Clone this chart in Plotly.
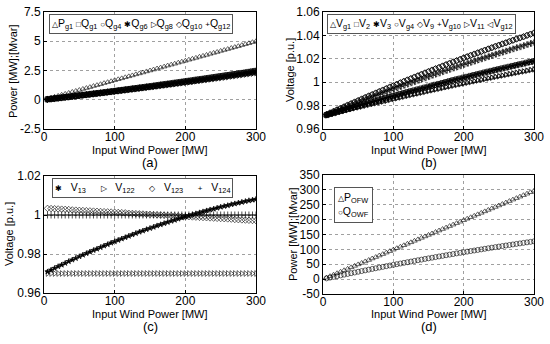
import plotly.graph_objects as go

# ---------------- data ----------------
wind_mw = [5, 10, 15, 20, 25, 30, 35, 40, 45, 50,
           55, 60, 65, 70, 75, 80, 85, 90, 95, 100,
           105, 110, 115, 120, 125, 130, 135, 140, 145, 150,
           155, 160, 165, 170, 175, 180, 185, 190, 195, 200,
           205, 210, 215, 220, 225, 230, 235, 240, 245, 250,
           255, 260, 265, 270, 275, 280, 285, 290, 295, 300]

# (a) generator powers
p_g1 = [0.08, 0.17, 0.25, 0.33, 0.42, 0.50, 0.58, 0.67, 0.75, 0.83,
        0.92, 1.00, 1.08, 1.17, 1.25, 1.33, 1.42, 1.50, 1.58, 1.67,
        1.75, 1.83, 1.92, 2.00, 2.08, 2.17, 2.25, 2.33, 2.42, 2.50,
        2.58, 2.67, 2.75, 2.83, 2.92, 3.00, 3.08, 3.17, 3.25, 3.33,
        3.42, 3.50, 3.58, 3.67, 3.75, 3.83, 3.92, 4.00, 4.08, 4.17,
        4.25, 4.33, 4.42, 4.50, 4.58, 4.67, 4.75, 4.83, 4.92, 5.00]
q_g1 = [0.04, 0.07, 0.11, 0.14, 0.18, 0.22, 0.25, 0.29, 0.33, 0.37,
        0.40, 0.44, 0.48, 0.52, 0.56, 0.59, 0.63, 0.67, 0.71, 0.75,
        0.79, 0.83, 0.87, 0.91, 0.95, 0.99, 1.03, 1.07, 1.11, 1.15,
        1.19, 1.24, 1.28, 1.32, 1.36, 1.40, 1.45, 1.49, 1.53, 1.58,
        1.62, 1.66, 1.71, 1.75, 1.79, 1.84, 1.88, 1.93, 1.97, 2.02,
        2.06, 2.11, 2.15, 2.20, 2.24, 2.29, 2.33, 2.38, 2.43, 2.47]
q_g4 = [0.03, 0.07, 0.10, 0.14, 0.17, 0.21, 0.24, 0.28, 0.31, 0.35,
        0.39, 0.42, 0.46, 0.49, 0.53, 0.57, 0.60, 0.64, 0.68, 0.72,
        0.75, 0.79, 0.83, 0.87, 0.91, 0.94, 0.98, 1.02, 1.06, 1.10,
        1.14, 1.18, 1.22, 1.26, 1.30, 1.34, 1.38, 1.42, 1.46, 1.50,
        1.54, 1.58, 1.62, 1.67, 1.71, 1.75, 1.79, 1.83, 1.88, 1.92,
        1.96, 2.01, 2.05, 2.09, 2.14, 2.18, 2.22, 2.27, 2.31, 2.36]
q_g6 = [0.03, 0.07, 0.11, 0.14, 0.18, 0.21, 0.25, 0.28, 0.32, 0.36,
        0.39, 0.43, 0.47, 0.50, 0.54, 0.58, 0.62, 0.65, 0.69, 0.73,
        0.77, 0.81, 0.84, 0.88, 0.92, 0.96, 1.00, 1.04, 1.08, 1.12,
        1.16, 1.20, 1.24, 1.28, 1.32, 1.36, 1.41, 1.45, 1.49, 1.53,
        1.57, 1.61, 1.66, 1.70, 1.74, 1.78, 1.83, 1.87, 1.91, 1.96,
        2.00, 2.04, 2.09, 2.13, 2.18, 2.22, 2.27, 2.31, 2.36, 2.40]
q_g8 = [0.03, 0.07, 0.10, 0.13, 0.17, 0.20, 0.23, 0.27, 0.30, 0.34,
        0.37, 0.41, 0.44, 0.48, 0.51, 0.55, 0.58, 0.62, 0.66, 0.69,
        0.73, 0.77, 0.80, 0.84, 0.88, 0.91, 0.95, 0.99, 1.03, 1.07,
        1.10, 1.14, 1.18, 1.22, 1.26, 1.30, 1.34, 1.38, 1.42, 1.46,
        1.49, 1.53, 1.58, 1.62, 1.66, 1.70, 1.74, 1.78, 1.82, 1.86,
        1.90, 1.94, 1.99, 2.03, 2.07, 2.11, 2.16, 2.20, 2.24, 2.28]
q_g10 = [0.04, 0.07, 0.11, 0.14, 0.18, 0.22, 0.25, 0.29, 0.32, 0.36,
         0.40, 0.44, 0.48, 0.51, 0.55, 0.59, 0.63, 0.67, 0.70, 0.74,
         0.78, 0.82, 0.86, 0.90, 0.94, 0.98, 1.02, 1.06, 1.10, 1.14,
         1.18, 1.22, 1.27, 1.31, 1.35, 1.39, 1.43, 1.47, 1.52, 1.56,
         1.60, 1.64, 1.69, 1.73, 1.77, 1.82, 1.86, 1.91, 1.95, 2.00,
         2.04, 2.08, 2.13, 2.18, 2.22, 2.27, 2.31, 2.36, 2.40, 2.45]
q_g12 = [0.03, 0.07, 0.10, 0.14, 0.17, 0.21, 0.24, 0.28, 0.32, 0.35,
         0.39, 0.43, 0.46, 0.50, 0.54, 0.57, 0.61, 0.65, 0.69, 0.72,
         0.76, 0.80, 0.84, 0.88, 0.91, 0.95, 0.99, 1.03, 1.07, 1.11,
         1.15, 1.19, 1.23, 1.27, 1.31, 1.35, 1.39, 1.43, 1.47, 1.52,
         1.56, 1.60, 1.64, 1.68, 1.73, 1.77, 1.81, 1.85, 1.90, 1.94,
         1.98, 2.03, 2.07, 2.11, 2.16, 2.20, 2.24, 2.29, 2.33, 2.38]

# (b) bus voltages (four visible bundles)
v_top = [0.9724, 0.9737, 0.9750, 0.9764, 0.9777, 0.9790, 0.9804, 0.9817, 0.9830, 0.9843,
         0.9856, 0.9869, 0.9882, 0.9894, 0.9907, 0.9920, 0.9932, 0.9945, 0.9958, 0.9970,
         0.9982, 0.9995, 1.0007, 1.0019, 1.0031, 1.0043, 1.0055, 1.0067, 1.0079, 1.0091,
         1.0103, 1.0115, 1.0126, 1.0138, 1.0150, 1.0161, 1.0173, 1.0184, 1.0195, 1.0207,
         1.0218, 1.0229, 1.0240, 1.0251, 1.0262, 1.0273, 1.0284, 1.0295, 1.0306, 1.0316,
         1.0327, 1.0337, 1.0348, 1.0358, 1.0369, 1.0379, 1.0389, 1.0400, 1.0410, 1.0420]
v_second = [0.9722, 0.9734, 0.9745, 0.9758, 0.9769, 0.9781, 0.9793, 0.9805, 0.9816, 0.9828,
            0.9840, 0.9851, 0.9863, 0.9873, 0.9885, 0.9896, 0.9907, 0.9918, 0.9930, 0.9941,
            0.9951, 0.9963, 0.9973, 0.9984, 0.9995, 1.0005, 1.0016, 1.0027, 1.0037, 1.0048,
            1.0059, 1.0069, 1.0079, 1.0090, 1.0100, 1.0110, 1.0121, 1.0130, 1.0140, 1.0151,
            1.0161, 1.0170, 1.0180, 1.0190, 1.0200, 1.0209, 1.0219, 1.0229, 1.0239, 1.0248,
            1.0257, 1.0266, 1.0276, 1.0285, 1.0295, 1.0303, 1.0312, 1.0322, 1.0331, 1.0340]
v_third = [0.9719, 0.9728, 0.9736, 0.9746, 0.9754, 0.9763, 0.9772, 0.9781, 0.9789, 0.9798,
           0.9807, 0.9815, 0.9824, 0.9832, 0.9840, 0.9849, 0.9857, 0.9866, 0.9874, 0.9882,
           0.9890, 0.9899, 0.9907, 0.9915, 0.9923, 0.9930, 0.9938, 0.9946, 0.9954, 0.9962,
           0.9970, 0.9978, 0.9985, 0.9993, 1.0001, 1.0009, 1.0017, 1.0024, 1.0031, 1.0039,
           1.0046, 1.0054, 1.0061, 1.0068, 1.0075, 1.0083, 1.0090, 1.0097, 1.0105, 1.0111,
           1.0118, 1.0125, 1.0132, 1.0139, 1.0146, 1.0153, 1.0159, 1.0167, 1.0173, 1.0180]
v_bottom = [0.9718, 0.9725, 0.9733, 0.9740, 0.9748, 0.9755, 0.9763, 0.9770, 0.9778, 0.9785,
            0.9792, 0.9800, 0.9807, 0.9814, 0.9821, 0.9828, 0.9835, 0.9842, 0.9850, 0.9856,
            0.9863, 0.9870, 0.9877, 0.9884, 0.9891, 0.9897, 0.9904, 0.9911, 0.9918, 0.9925,
            0.9931, 0.9938, 0.9944, 0.9951, 0.9958, 0.9964, 0.9971, 0.9977, 0.9983, 0.9990,
            0.9996, 1.0002, 1.0008, 1.0015, 1.0021, 1.0027, 1.0033, 1.0039, 1.0046, 1.0051,
            1.0057, 1.0063, 1.0069, 1.0075, 1.0081, 1.0087, 1.0092, 1.0098, 1.0104, 1.0110]

# (c) other bus voltages
v_13 = [0.9709, 0.9718, 0.9727, 0.9736, 0.9744, 0.9753, 0.9762, 0.9770, 0.9778, 0.9787,
        0.9795, 0.9803, 0.9811, 0.9819, 0.9826, 0.9834, 0.9842, 0.9849, 0.9857, 0.9864,
        0.9871, 0.9878, 0.9885, 0.9892, 0.9899, 0.9906, 0.9913, 0.9919, 0.9926, 0.9932,
        0.9938, 0.9945, 0.9951, 0.9957, 0.9963, 0.9969, 0.9974, 0.9980, 0.9986, 0.9991,
        0.9996, 1.0002, 1.0007, 1.0012, 1.0017, 1.0022, 1.0027, 1.0031, 1.0036, 1.0041,
        1.0045, 1.0049, 1.0054, 1.0058, 1.0062, 1.0066, 1.0070, 1.0074, 1.0077, 1.0081]
v_122 = [0.970, 0.970, 0.970, 0.970, 0.970, 0.970, 0.970, 0.970, 0.970, 0.970,
         0.970, 0.970, 0.970, 0.970, 0.970, 0.970, 0.970, 0.970, 0.970, 0.970,
         0.970, 0.970, 0.970, 0.970, 0.970, 0.970, 0.970, 0.970, 0.970, 0.970,
         0.970, 0.970, 0.970, 0.970, 0.970, 0.970, 0.970, 0.970, 0.970, 0.970,
         0.970, 0.970, 0.970, 0.970, 0.970, 0.970, 0.970, 0.970, 0.970, 0.970,
         0.970, 0.970, 0.970, 0.970, 0.970, 0.970, 0.970, 0.970, 0.970, 0.970]
v_123 = [1.0034, 1.0033, 1.0032, 1.0031, 1.0030, 1.0029, 1.0028, 1.0026, 1.0025, 1.0024,
         1.0023, 1.0022, 1.0021, 1.0020, 1.0019, 1.0018, 1.0017, 1.0016, 1.0015, 1.0014,
         1.0013, 1.0012, 1.0011, 1.0009, 1.0008, 1.0007, 1.0006, 1.0005, 1.0004, 1.0003,
         1.0002, 1.0001, 1.0000, 0.9999, 0.9998, 0.9997, 0.9996, 0.9995, 0.9993, 0.9992,
         0.9991, 0.9990, 0.9989, 0.9988, 0.9987, 0.9986, 0.9985, 0.9984, 0.9983, 0.9982,
         0.9981, 0.9980, 0.9979, 0.9977, 0.9976, 0.9975, 0.9974, 0.9973, 0.9972, 0.9971]
v_124 = [1.000, 1.000, 1.000, 1.000, 1.000, 1.000, 1.000, 1.000, 1.000, 1.000,
         1.000, 1.000, 1.000, 1.000, 1.000, 1.000, 1.000, 1.000, 1.000, 1.000,
         1.000, 1.000, 1.000, 1.000, 1.000, 1.000, 1.000, 1.000, 1.000, 1.000,
         1.000, 1.000, 1.000, 1.000, 1.000, 1.000, 1.000, 1.000, 1.000, 1.000,
         1.000, 1.000, 1.000, 1.000, 1.000, 1.000, 1.000, 1.000, 1.000, 1.000,
         1.000, 1.000, 1.000, 1.000, 1.000, 1.000, 1.000, 1.000, 1.000, 1.000]

# (d) offshore wind farm output
p_ofw = [4.9, 9.9, 14.8, 19.8, 24.7, 29.7, 34.6, 39.6, 44.5, 49.5,
         54.4, 59.4, 64.3, 69.3, 74.2, 79.2, 84.1, 89.1, 94.0, 99.0,
         103.9, 108.9, 113.8, 118.8, 123.7, 128.7, 133.6, 138.6, 143.5, 148.5,
         153.4, 158.4, 163.3, 168.3, 173.2, 178.2, 183.1, 188.1, 193.0, 198.0,
         202.9, 207.9, 212.8, 217.8, 222.7, 227.7, 232.6, 237.6, 242.5, 247.5,
         252.4, 257.4, 262.3, 267.3, 272.2, 277.2, 282.1, 287.1, 292.0, 297.0]
q_owf = [2.5, 5.1, 7.6, 10.1, 12.5, 15.0, 17.4, 19.9, 22.3, 24.7,
         27.1, 29.5, 31.8, 34.2, 36.5, 38.9, 41.2, 43.5, 45.7, 48.0,
         50.2, 52.5, 54.7, 56.9, 59.1, 61.3, 63.5, 65.6, 67.8, 69.9,
         72.0, 74.1, 76.2, 78.2, 80.3, 82.3, 84.3, 86.4, 88.4, 90.3,
         92.3, 94.3, 96.2, 98.1, 100.0, 101.9, 103.8, 105.7, 107.5, 109.4,
         111.2, 113.0, 114.8, 116.6, 118.4, 120.1, 121.9, 123.6, 125.3, 127.0]

# ---------------- figure ----------------
FONT = "Liberation Sans, Arial, sans-serif"
fig = go.Figure()


def add(y, sym, name, xa, ya, size=5, lw=0.7):
    mk = dict(symbol=sym, size=size, color="black",
              line=dict(color="black", width=lw))
    fig.add_trace(go.Scatter(x=wind_mw, y=y, mode="markers", name=name,
                             marker=mk, xaxis=xa, yaxis=ya, showlegend=False))


# (a)
add(q_g1, "square-open", "Qg1", "x", "y")
add(q_g4, "circle-open", "Qg4", "x", "y")
add(q_g6, "star", "Qg6", "x", "y", size=4)
add(q_g8, "triangle-right-open", "Qg8", "x", "y")
add(q_g10, "diamond-open", "Qg10", "x", "y")
add(q_g12, "cross-thin-open", "Qg12", "x", "y", size=5)
add(p_g1, "triangle-up-open", "Pg1", "x", "y", size=5, lw=0.6)
# (b)
add(v_bottom, "triangle-up-open", "Vg1", "x2", "y2")
add(v_third, "square-open", "V2", "x2", "y2")
add(v_third, "star", "V3", "x2", "y2", size=4)
add(v_top, "circle-open", "Vg4", "x2", "y2")
add(v_top, "diamond-open", "V9", "x2", "y2")
add(v_second, "cross-thin-open", "Vg10", "x2", "y2", size=5)
add(v_bottom, "triangle-right-open", "V11", "x2", "y2")
add(v_second, "triangle-left-open", "Vg12", "x2", "y2")
# (c)
add(v_13, "star", "V13", "x3", "y3", size=4)
add(v_122, "triangle-right-open", "V122", "x3", "y3", size=5, lw=0.6)
add(v_123, "diamond-open", "V123", "x3", "y3", size=5, lw=0.6)
add(v_124, "cross-thin-open", "V124", "x3", "y3", size=5)
# (d)
add(p_ofw, "triangle-up-open", "POFW", "x4", "y4", size=5, lw=0.6)
add(q_owf, "circle-open", "QOWF", "x4", "y4", size=5, lw=0.6)

H = 344.0
W = 550.0
xdomL = [44 / W, 256 / W]
xdomR = [323 / W, 534 / W]
ydomT = [1 - 129 / H, 1 - 12 / H]
ydomB = [1 - 293 / H, 1 - 176 / H]

tickfont = dict(family=FONT, size=12, color="black")
titlefont = dict(family=FONT, size=11, color="black")


def xaxis(dom, anchor):
    return dict(domain=dom, anchor=anchor, range=[0, 300], tickvals=[0, 100, 200, 300],
                showline=True, mirror=True, linecolor="black", linewidth=1,
                ticks="inside", ticklen=3, tickcolor="black", ticklabelstandoff=-3,
                showgrid=True, gridcolor="#a0a0a0", griddash="dot", gridwidth=1,
                zeroline=False, tickfont=tickfont, automargin=False)


def yaxis(dom, anchor, rng, tv, tt):
    return dict(domain=dom, anchor=anchor, range=rng, tickvals=tv, ticktext=tt,
                showline=True, mirror=True, linecolor="black", linewidth=1,
                ticks="inside", ticklen=3, tickcolor="black",
                showgrid=True, gridcolor="#a0a0a0", griddash="dot", gridwidth=1,
                zeroline=False, tickfont=tickfont, automargin=False)


fig.update_layout(
    width=550, height=344,
    margin=dict(l=0, r=0, t=0, b=0, autoexpand=False),
    paper_bgcolor="white", plot_bgcolor="white",
    font=dict(family=FONT, color="black"),
    xaxis=xaxis(xdomL, "y"),
    yaxis=yaxis(ydomT, "x", [-2.5, 7.5], [-2.5, 0, 2.5, 5, 7.5],
                ["-2.5", "0", "2.5", "5", "7.5"]),
    xaxis2=xaxis(xdomR, "y2"),
    yaxis2=yaxis(ydomT, "x2", [0.96, 1.06], [0.96, 0.98, 1.0, 1.02, 1.04, 1.06],
                 ["0.96", "0.98", "1", "1.02", "1.04", "1.06"]),
    xaxis3=xaxis(xdomL, "y3"),
    yaxis3=yaxis(ydomB, "x3", [0.96, 1.02], [0.96, 0.98, 1.0, 1.02],
                 ["0.96", "0.98", "1", "1.02"]),
    xaxis4=xaxis(xdomR, "y4"),
    yaxis4=yaxis([1 - 294 / H, 1 - 175 / H], "x4", [-50, 350],
                 [-50, 0, 50, 100, 150, 200, 250, 300, 350],
                 ["-50", "0", "50", "100", "150", "200", "250", "300", "350"]),
)

# axis titles placed as annotations (tight, as in the original)
xtitle = "Input Wind Power [MW]"
for xp, yp in [(150, 150), (429, 150), (150, 314), (429, 314)]:
    fig.add_annotation(text=xtitle, x=xp / W, y=1 - yp / H, xref="paper", yref="paper",
                       showarrow=False, font=titlefont, xanchor="center", yanchor="middle")
for txt, xp, yp in [("Power [MW];[Mvar]", 13, 71), ("Voltage [p.u.]", 290, 70),
                    ("Voltage [p.u.]", 9, 234), ("Power [MW];[Mvar]", 293, 234)]:
    fig.add_annotation(text=txt, x=xp / W, y=1 - yp / H, xref="paper", yref="paper",
                       showarrow=False, font=titlefont, textangle=-90,
                       xanchor="center", yanchor="middle")


def sym(s):
    return "<span style='font-size:8px'>" + s + "</span>"


legend_a = (sym("△") + "P<sub>g1</sub> " + sym("□") + "Q<sub>g1</sub> " + sym("○") + "Q<sub>g4</sub> "
            + sym("✱") + "Q<sub>g6</sub> " + sym("▷") + "Q<sub>g8</sub> " + sym("◇") + "Q<sub>g10</sub> "
            + sym("+") + "Q<sub>g12</sub>")
legend_b = (sym("△") + "V<sub>g1</sub> " + sym("□") + "V<sub>2</sub> " + sym("✱") + "V<sub>3</sub> "
            + sym("○") + "V<sub>g4</sub> " + sym("◇") + "V<sub>9</sub> " + sym("+") + "V<sub>g10</sub> "
            + sym("▷") + "V<sub>11</sub> " + sym("◁") + "V<sub>g12</sub>")
legend_c = (sym("✱") + "   V<sub>13</sub>     " + sym("▷") + "   V<sub>122</sub>     "
            + sym("◇") + "   V<sub>123</sub>     " + sym("+") + "   V<sub>124</sub>")
legend_d = sym("△") + "P<sub>OFW</sub><br>" + sym("○") + "Q<sub>OWF</sub>"

legfont = dict(family=FONT, size=10.5, color="black")
box = dict(bordercolor="#555555", borderwidth=1, bgcolor="white", showarrow=False,
           xref="paper", yref="paper", xanchor="left", yanchor="top", font=legfont)
fig.add_annotation(text=legend_a, x=49 / W, y=1 - 14 / H, borderpad=2, **box)
fig.add_annotation(text=legend_b, x=327 / W, y=1 - 14 / H, borderpad=2, **box)
fig.add_annotation(text=legend_c, x=52 / W, y=1 - 178 / H, borderpad=2, **box)
fig.add_annotation(text=legend_d, x=334 / W, y=1 - 187 / H, borderpad=3, align="left", **box)

labfont = dict(family=FONT, size=13, color="black")
for txt, xp, yp in [("(a)", 150, 163), ("(b)", 429, 163), ("(c)", 150, 326), ("(d)", 429, 326)]:
    fig.add_annotation(text=txt, x=xp / W, y=1 - yp / H, xref="paper", yref="paper",
                       showarrow=False, font=labfont, xanchor="center", yanchor="middle")

fig.write_html("out.html", config={"displayModeBar": False, "staticPlot": True},
               post_script="document.body.style.margin='0';document.body.style.padding='0';")
